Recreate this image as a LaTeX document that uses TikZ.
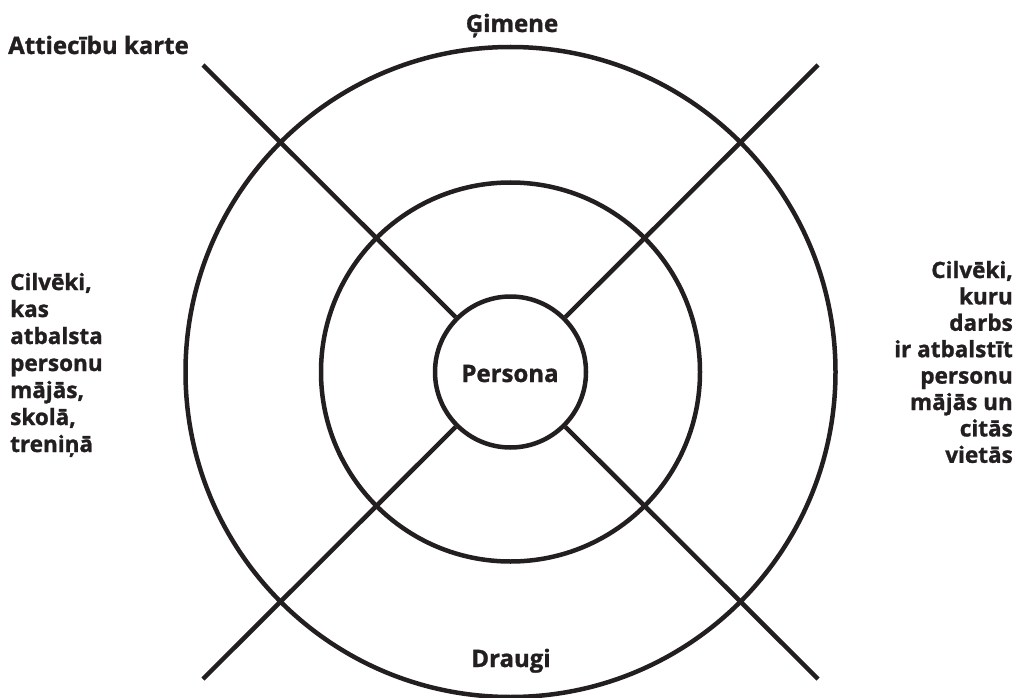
\documentclass[tikz,border=0pt]{standalone}
\usepackage{fontspec}
\setmainfont{Open Sans}[BoldFeatures={FakeBold=1.2}]
\definecolor{ink}{HTML}{231F20}
\begin{document}
\begin{tikzpicture}[x=1pt,y=-1pt,
  ring/.style={draw=ink,line width=4.5pt},
  spoke/.style={draw=ink,line width=4.5pt},
  lbl/.style={inner sep=0pt,text=ink,font=\bfseries\fontsize{24}{27}\selectfont},
  side/.style={inner sep=0pt,text=ink,font=\bfseries\fontsize{22.5}{26}\selectfont}]
\useasboundingbox (0,0) rectangle (1018,698);
\coordinate (c) at (510.5,372);
\node[ring,circle,minimum size=650pt,inner sep=0pt] (outer) at (c) {};
\node[ring,circle,minimum size=379pt,inner sep=0pt] (middle) at (c) {};
\node[ring,circle,minimum size=151pt,inner sep=0pt] (inner) at (c) {};
\coordinate (tl) at (203,65);
\coordinate (tr) at (818,65);
\coordinate (bl) at (203,679);
\coordinate (br) at (818,679);
\draw[spoke] (tl) -- (inner.north west);
\draw[spoke] (tr) -- (inner.north east);
\draw[spoke] (bl) -- (inner.south west);
\draw[spoke] (br) -- (inner.south east);
\node[lbl,anchor=base] (pers) at (510,382) {Persona};
\node[lbl,anchor=base] (gim) at (512,32) {Ģimene};
\node[lbl,anchor=base] (dra) at (511,667) {Draugi};
\node[lbl,anchor=base west] (title) at (8,54) {Attiecību karte};
\foreach \t [count=\i] in {{Cilvēki,},kas,atbalsta,personu,{mājās,},{skolā,},treniņā}
  \node[side,anchor=base west] (l\i) at (10,{290+27*(\i-1)}) {\t};
\foreach \t [count=\i] in {{Cilvēki,},kuru,darbs,ir atbalstīt,personu,mājās un,citās,vietās}
  \node[side,anchor=base east] (r\i) at (1013,{278+26.4*(\i-1)}) {\t};
\end{tikzpicture}
\end{document}
